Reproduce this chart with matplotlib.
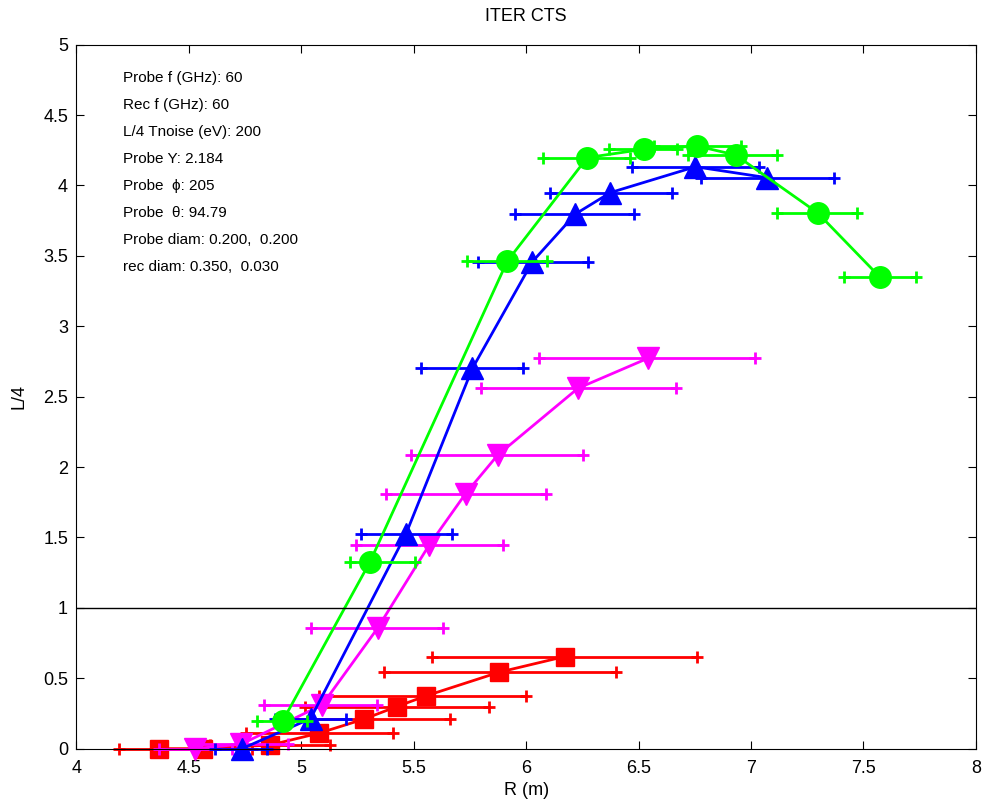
import numpy as np
import matplotlib
matplotlib.use("Agg")
import matplotlib.pyplot as plt

plt.rcParams["font.family"] = ["Liberation Sans", "DejaVu Sans"]

# red squares
r_red = [4.367, 4.565, 4.862, 5.079, 5.277, 5.425, 5.553, 5.880, 6.171]
l_red = [0.0, 0.0, 0.026, 0.110, 0.209, 0.299, 0.374, 0.543, 0.654]
lo_red = [4.189, 4.348, 4.595, 4.753, 4.891, 5.015, 5.079, 5.366, 5.583]
hi_red = [4.545, 4.782, 5.128, 5.410, 5.662, 5.835, 5.998, 6.401, 6.759]

# magenta down triangles
r_mag = [4.528, 4.733, 5.093, 5.339, 5.569, 5.731, 5.874, 6.230, 6.542]
l_mag = [0.0, 0.032, 0.311, 0.855, 1.447, 1.812, 2.086, 2.559, 2.773]
lo_mag = [4.367, 4.525, 4.832, 5.044, 5.242, 5.376, 5.487, 5.800, 6.058]
hi_mag = [4.694, 4.941, 5.336, 5.629, 5.896, 6.087, 6.252, 6.668, 7.016]

# blue up triangles
r_blue = [4.736, 5.041, 5.465, 5.761, 6.028, 6.219, 6.374, 6.753, 7.073]
l_blue = [0.0, 0.213, 1.523, 2.701, 3.459, 3.797, 3.949, 4.133, 4.055]
lo_blue = [4.614, 4.881, 5.265, 5.534, 5.785, 5.949, 6.107, 6.473, 6.779]
hi_blue = [4.849, 5.198, 5.669, 5.988, 6.275, 6.479, 6.647, 7.036, 7.367]

# green circles
r_green = [4.918, 5.306, 5.916, 6.272, 6.522, 6.762, 6.932, 7.296, 7.574]
l_green = [0.199, 1.328, 3.462, 4.198, 4.257, 4.280, 4.216, 3.806, 3.348]
lo_green = [4.802, 5.217, 5.737, 6.076, 6.369, 6.569, 6.720, 7.115, 7.412]
hi_green = [5.026, 5.504, 6.094, 6.463, 6.673, 6.957, 7.115, 7.471, 7.734]

info = ["Probe f (GHz): 60", "Rec f (GHz): 60", "L/4 Tnoise (eV): 200",
        "Probe Y: 2.184", "Probe  \u03d5: 205", "Probe  \u03b8: 94.79",
        "Probe diam: 0.200,  0.200", "rec diam: 0.350,  0.030"]

fig = plt.figure(figsize=(9.84, 8.05), dpi=100)
ax = fig.add_axes([0.0777, 0.070, 0.914, 0.8745])

series = [
    (r_red, l_red, lo_red, hi_red, "#ff0000", "s", 13),
    (r_mag, l_mag, lo_mag, hi_mag, "#ff00ff", "v", 16),
    (r_blue, l_blue, lo_blue, hi_blue, "#0000ff", "^", 16),
    (r_green, l_green, lo_green, hi_green, "#00ff00", "o", 15.5),
]
for r, l, lo, hi, c, m, ms in series:
    ax.hlines(l, lo, hi, color=c, lw=2, clip_on=False)
    ax.plot(lo, l, "+", color=c, ms=9, mew=2, ls="none", clip_on=False)
    ax.plot(hi, l, "+", color=c, ms=9, mew=2, ls="none", clip_on=False)
    ax.plot(r, l, color=c, lw=2, marker=m, ms=ms, clip_on=False)

ax.axhline(1, color="k", lw=1)

for i, s in enumerate(info):
    ax.text(4.209, 4.761 - i * 0.191, s, fontsize=11, va="center", ha="left")

ax.set_xlim(4, 8)
ax.set_ylim(0, 5)
ax.set_xticks(np.arange(4, 8.01, 0.5))
ax.set_yticks(np.arange(0, 5.01, 0.5))
ax.set_xticklabels(["4", "4.5", "5", "5.5", "6", "6.5", "7", "7.5", "8"])
ax.set_yticklabels(["0", "0.5", "1", "1.5", "2", "2.5", "3", "3.5", "4", "4.5", "5"])
ax.tick_params(direction="in", top=True, right=True, labelsize=13, length=5.5)
ax.tick_params(axis="x", pad=8)
ax.tick_params(axis="y", pad=6)
ax.set_xlabel("R (m)", fontsize=13, labelpad=4)
ax.set_ylabel("L/4", fontsize=13, labelpad=11)
ax.set_title("ITER CTS", fontsize=13, pad=17)

fig.savefig("out.png", dpi=100)
